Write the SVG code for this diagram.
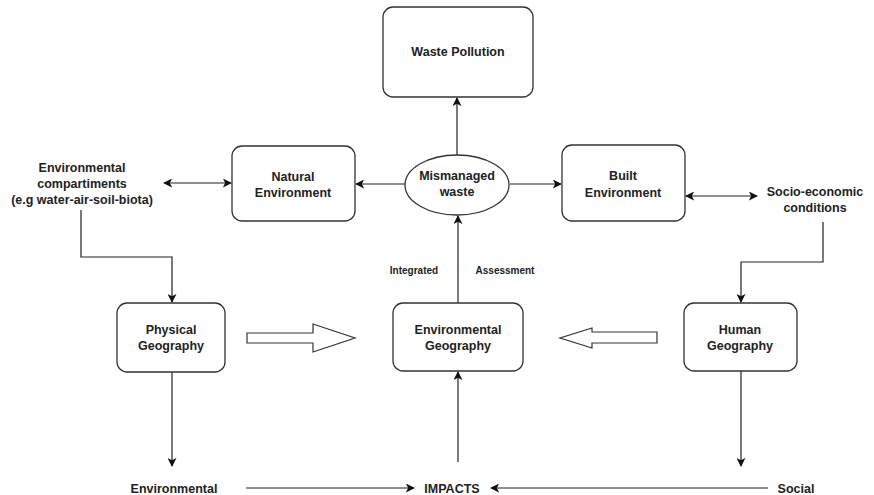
<svg xmlns="http://www.w3.org/2000/svg" width="874" height="495" viewBox="0 0 874 495">
<defs>
<marker id="ah" viewBox="0 0 10 10" refX="9" refY="5" markerWidth="9" markerHeight="9" markerUnits="userSpaceOnUse" orient="auto-start-reverse">
<path d="M0,0 L10,5 L0,10 L2.5,5 Z" fill="#111"/>
</marker>
</defs>
<style>
.box{fill:#fff;stroke:#333;stroke-width:1.3}
.t{font-family:"Liberation Sans",Arial,sans-serif;font-size:12.5px;font-weight:bold;fill:#222;text-anchor:middle}
.s{font-family:"Liberation Sans",Arial,sans-serif;font-size:10px;font-weight:bold;fill:#222;text-anchor:middle}
.c{fill:none;stroke:#222;stroke-width:1.2}
.a{marker-end:url(#ah)}
.d{marker-start:url(#ah);marker-end:url(#ah)}
.h{fill:#fff;stroke:#333;stroke-width:1.2}
</style>
<rect width="874" height="495" fill="#fff"/>
<g id="connectors">
<path class="c a" d="M457,156 V98"/>
<path class="c a" d="M405,184 H356"/>
<path class="c a" d="M510,184 H561"/>
<path class="c d" d="M164,183 H231"/>
<path class="c d" d="M686,196 H757"/>
<path class="c a" d="M81,210 V257 H172 V302"/>
<path class="c a" d="M823,222 V262 H741 V302"/>
<path class="c a" d="M458,303 V216"/>
<path class="c a" d="M458,462 V372"/>
<path class="c a" d="M172,372 V466"/>
<path class="c a" d="M741,371 V466"/>
<path class="c a" d="M246,488 H414"/>
<path class="c a" d="M768,488 H491"/>
<path class="h" d="M247,333 H313 V324 L355,338 L313,352 V343 H247 Z"/>
<path class="h" d="M657,332 H592 V328 L560,338 L592,348 V343 H657 Z"/>
</g>
<g id="waste-pollution">
<rect class="box" x="383" y="7" width="150" height="90" rx="10"/>
<text class="t" x="458" y="56">Waste Pollution</text>
</g>
<g id="mismanaged-waste">
<ellipse class="box" cx="457" cy="185" rx="52" ry="30"/>
<text class="t" x="457" y="180">Mismanaged</text>
<text class="t" x="457" y="196">waste</text>
</g>
<g id="natural-environment">
<rect class="box" x="232" y="146" width="123" height="75" rx="10"/>
<text class="t" x="293" y="181">Natural</text>
<text class="t" x="293" y="197">Environment</text>
</g>
<g id="built-environment">
<rect class="box" x="562" y="145" width="123" height="76" rx="10"/>
<text class="t" x="623" y="180">Built</text>
<text class="t" x="623" y="197">Environment</text>
</g>
<g id="environmental-compartments">
<text class="t" x="82" y="172">Environmental</text>
<text class="t" x="82" y="188">compartiments</text>
<text class="t" x="82" y="204">(e.g water-air-soil-biota)</text>
</g>
<g id="socio-economic">
<text class="t" x="815" y="196">Socio-economic</text>
<text class="t" x="815" y="212">conditions</text>
</g>
<g id="labels">
<text class="s" x="414" y="274">Integrated</text>
<text class="s" x="505" y="274">Assessment</text>
</g>
<g id="physical-geography">
<rect class="box" x="117" y="303" width="108" height="69" rx="10"/>
<text class="t" x="171" y="334">Physical</text>
<text class="t" x="171" y="350">Geography</text>
</g>
<g id="environmental-geography">
<rect class="box" x="393" y="303" width="130" height="68" rx="10"/>
<text class="t" x="458" y="334">Environmental</text>
<text class="t" x="458" y="350">Geography</text>
</g>
<g id="human-geography">
<rect class="box" x="684" y="303" width="113" height="68" rx="10"/>
<text class="t" x="740" y="334">Human</text>
<text class="t" x="740" y="350">Geography</text>
</g>
<g id="environmental">
<text class="t" x="174" y="493">Environmental</text>
</g>
<g id="impacts">
<text class="t" x="452" y="493">IMPACTS</text>
</g>
<g id="social">
<text class="t" x="796" y="493">Social</text>
</g>
</svg>
